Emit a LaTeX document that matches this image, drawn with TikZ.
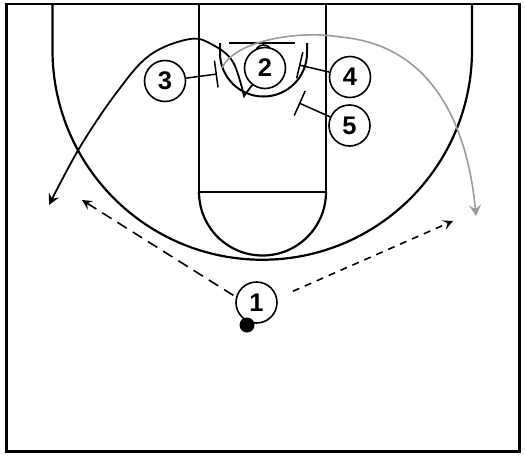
\documentclass[tikz,border=0pt]{standalone}
\usepackage{fontspec}
\setmainfont{Liberation Sans}
\usetikzlibrary{arrows.meta}
\definecolor{pathgray}{RGB}{155,155,155}
\begin{document}
\begin{tikzpicture}[x=1pt,y=-1pt,
 court/.style={line width=2.2pt},
 player/.style={circle, draw, line width=1.6pt, fill=white, minimum size=41pt, inner sep=0pt, font=\fontsize{25.5}{25.5}\selectfont\bfseries},
 ballnode/.style={circle, fill=black, minimum size=15pt, inner sep=0pt},
 cut/.style={line width=1.8pt, -{Stealth[length=11pt,width=11pt,inset=4pt]}},
 graycut/.style={line width=1.6pt, draw=pathgray, -{Stealth[length=11pt,width=12pt,inset=4pt,color=pathgray]}},
 passleft/.style={line width=1.6pt, dash pattern=on 11pt off 7pt, -{Stealth[length=10pt,width=10pt,inset=4pt]}},
 passright/.style={line width=1.6pt, dash pattern=on 7pt off 6pt, -{Stealth[length=10pt,width=10pt,inset=4pt]}},
 screen/.style={line width=1.5pt, -{Bar[width=27pt,line width=1.5pt]}},
]
\useasboundingbox (0,0) rectangle (525,458);
% court
\draw[line width=2.8pt] (6.5,4) rectangle (519.5,451.5);
\draw[court] (52.5,4) -- (52.5,50) arc[start angle=180, end angle=0, radius=209.75] -- (472,4);
\draw[court] (199,4) -- (199,192) -- (326,192) -- (326,4);
\draw[court] (199,192) arc[start angle=180, end angle=0, radius=63.5];
\draw[line width=2pt] (220,43) -- (220,53) arc[start angle=180, end angle=0, radius=43.5] -- (307,43);
\draw[court] (229,43) -- (295,43);
\draw[line width=1.6pt] (263.5,53.5) circle[radius=8.5];
% players
\node[player] (p1) at (256.5,302.5) {1};
\node[player] (p2) at (265,68) {2};
\node[player] (p3) at (165,81) {3};
\node[player] (p4) at (350,77) {4};
\node[player] (p5) at (349.5,125.5) {5};
\node[ballnode] (ball) at (247,325) {};
% screens
\coordinate (s3) at (217,74);
\coordinate (s4) at (299,65);
\coordinate (s5) at (299,103);
\draw[screen] (p3) -- (s3);
\draw[screen] (p4) -- (s4);
\draw[screen] (p5) -- (s5);
% black cut
\coordinate (v) at (244,96);
\coordinate (c2end) at (49,205);
\draw[cut] (p2.233) -- plot[smooth, tension=0.6] coordinates {(v) (233,62) (213,45) (190,39) (150,55) (117,92) (80,147) (c2end)};
% gray cut
\coordinate (g0) at (222,68);
\coordinate (gmid) at (340,37);
\coordinate (gend) at (476,216);
\draw[graycut] (g0) .. controls (235,40) and (300,30) .. (gmid) .. controls (435,45) and (468,130) .. (gend);
% passes
\coordinate (pl) at (82,200);
\coordinate (pr) at (453,221);
\draw[passleft, shorten <=3pt] (p1.165) -- (pl);
\draw[passright, shorten <=17pt] (p1.12) -- (pr);
\end{tikzpicture}
\end{document}
